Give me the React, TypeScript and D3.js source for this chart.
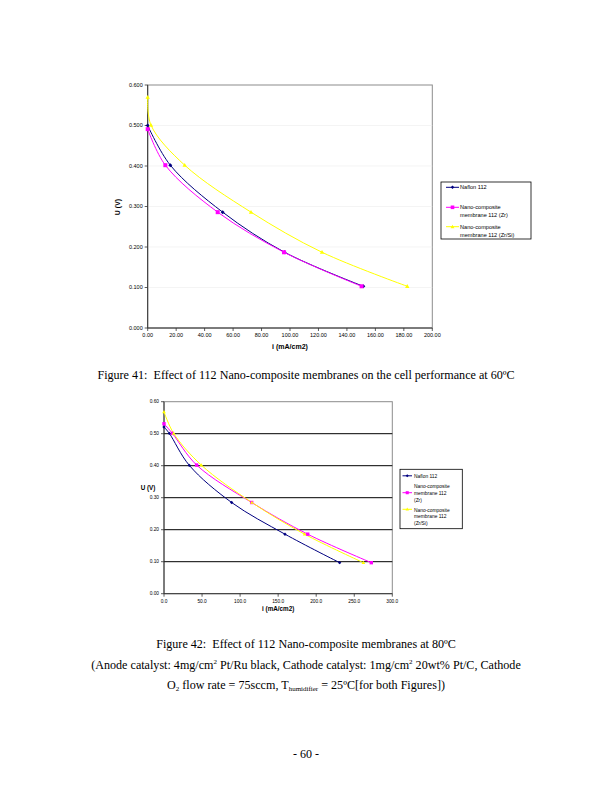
import React from "react";
import * as d3 from "d3";

type Pt = [number, number];

// ---- Figure 41 (60ºC) data ----
const f41Nafion: Pt[] = [[0, 0.5], [15.9, 0.402], [52.7, 0.286], [96.2, 0.187], [151.5, 0.103]];
const f41Zr: Pt[] = [[0, 0.491], [12.4, 0.402], [49.2, 0.286], [95.8, 0.187], [150.3, 0.103]];
const f41ZrSi: Pt[] = [[0, 0.57], [2.3, 0.501], [26, 0.402], [72.6, 0.286], [122.5, 0.187], [182.4, 0.103]];
const f41XTicks = [0, 20, 40, 60, 80, 100, 120, 140, 160, 180, 200];
const f41YTicks = [0, 0.1, 0.2, 0.3, 0.4, 0.5, 0.6];

// ---- Figure 42 (80ºC) data ----
const f42Nafion: Pt[] = [[0, 0.521], [7, 0.501], [33.3, 0.401], [88.9, 0.285], [159, 0.186], [230.8, 0.097]];
const f42Zr: Pt[] = [[0, 0.531], [11, 0.501], [42.9, 0.402], [115.2, 0.285], [188.8, 0.186], [272.4, 0.097]];
const f42ZrSi: Pt[] = [[0, 0.568], [12.7, 0.501], [49, 0.402], [115.5, 0.285], [184.8, 0.186], [262, 0.097]];
const f42XTicks = [0, 50, 100, 150, 200, 250, 300];
const f42YTicks = [0, 0.1, 0.2, 0.3, 0.4, 0.5, 0.6];

const legendNames1 = [["Naflon 112"], ["Nano-composite", "membrane 112 (Zr)"], ["Nano-composite", "membrane 112 (Zr/Si)"]];
const legendNames2 = [["Naflon 112"], ["Nano-composite", "membrane 112", "(Zr)"], ["Nano-composite", "membrane 112", "(Zr/Si)"]];

const COLORS = ["#000080", "#FF00FF", "#FFFF00"];
const SANS = "'Liberation Sans', Arial, sans-serif";
const SERIF = "'Liberation Serif', 'Times New Roman', serif";

function Marker({ kind, x, y, color, s }: { kind: number; x: number; y: number; color: string; s: number }) {
  if (kind === 0) {
    return <path d={`M${x},${y - s}L${x + s},${y}L${x},${y + s}L${x - s},${y}Z`} fill={color} />;
  }
  if (kind === 1) {
    return <rect x={x - s} y={y - s} width={2 * s} height={2 * s} fill={color} />;
  }
  return <path d={`M${x},${y - s * 1.1}L${x + s * 1.1},${y + s * 0.8}L${x - s * 1.1},${y + s * 0.8}Z`} fill={color} />;
}

interface LegendSpec {
  x: number; y: number; w: number; h: number;
  markerY: number[]; textY: number[]; lineH: number; font: number;
  lx0: number; lx1: number; tx: number; names: string[][];
}

interface ChartProps {
  series: Pt[][];
  xTicks: number[];
  yTicks: number[];
  xDomain: [number, number];
  x0: number; x1: number; y0: number; y1: number;
  xFmt: (v: number) => string;
  yFmt: (v: number) => string;
  tickFont: number;
  titleFont: number;
  xTitleY: number;
  yTitleX: number;
  yTitleY: number;
  yTitleRotate: boolean;
  darkGrid: boolean;
  markerSize: number;
  legend: LegendSpec;
}

function Chart(p: ChartProps) {
  const x = d3.scaleLinear().domain(p.xDomain).range([p.x0, p.x1]);
  const y = d3.scaleLinear().domain([0, 0.6]).range([p.y1, p.y0]);
  const line = d3.line<Pt>().x(d => x(d[0])).y(d => y(d[1])).curve(d3.curveCatmullRom.alpha(0.5));
  const L = p.legend;
  return (
    <g>
      <rect x={p.x0} y={p.y0} width={p.x1 - p.x0} height={p.y1 - p.y0} fill="#fff" stroke="#8c8c8c" strokeWidth={1} />
      {p.yTicks.filter(t => t > 0 && t < 0.6).map(t => (
        <line key={"g" + t} x1={p.x0} x2={p.x1} y1={y(t)} y2={y(t)}
          stroke={p.darkGrid ? "#000" : "#ececec"} strokeWidth={p.darkGrid ? 1 : 0.6} />
      ))}
      <line x1={p.x0} x2={p.x0} y1={p.y0} y2={p.y1} stroke="#333" strokeWidth={1} />
      <line x1={p.x0} x2={p.x1} y1={p.y1} y2={p.y1} stroke="#333" strokeWidth={1} />
      {p.yTicks.map(t => (
        <g key={"y" + t}>
          <line x1={p.x0 - 3} x2={p.x0} y1={y(t)} y2={y(t)} stroke="#333" strokeWidth={0.8} />
          <text x={p.x0 - 5} y={y(t)} dy="0.35em" textAnchor="end" fontSize={p.tickFont} fontFamily={SANS} fill="#000">{p.yFmt(t)}</text>
        </g>
      ))}
      {p.xTicks.map(t => (
        <g key={"x" + t}>
          <line x1={x(t)} x2={x(t)} y1={p.y1} y2={p.y1 + 3} stroke="#333" strokeWidth={0.8} />
          <text x={x(t)} y={p.y1 + 5} dy="0.8em" textAnchor="middle" fontSize={p.tickFont} fontFamily={SANS} fill="#000">{p.xFmt(t)}</text>
        </g>
      ))}
      <text x={(p.x0 + p.x1) / 2} y={p.xTitleY} dy="0.35em" textAnchor="middle" fontSize={p.titleFont} fontWeight="bold" fontFamily={SANS}>i (mA/cm2)</text>
      <text transform={`translate(${p.yTitleX},${p.yTitleY})${p.yTitleRotate ? " rotate(-90)" : ""}`} dy="0.35em" textAnchor="middle" fontSize={p.titleFont} fontWeight="bold" fontFamily={SANS}>U (V)</text>
      {p.series.map((s, i) => (
        <path key={"l" + i} d={line(s) || ""} fill="none" stroke={COLORS[i]} strokeWidth={1} />
      ))}
      {p.series.map((s, i) => s.map((d, j) => (
        <Marker key={`m${i}-${j}`} kind={i} x={x(d[0])} y={y(d[1])} color={COLORS[i]} s={p.markerSize} />
      )))}
      <rect x={L.x} y={L.y} width={L.w} height={L.h} fill="#fff" stroke="#000" strokeWidth={0.8} />
      {L.names.map((lines, i) => (
        <g key={"lg" + i}>
          <line x1={L.lx0} x2={L.lx1} y1={L.markerY[i]} y2={L.markerY[i]} stroke={COLORS[i]} strokeWidth={1} />
          <Marker kind={i} x={(L.lx0 + L.lx1) / 2} y={L.markerY[i]} color={COLORS[i]} s={p.markerSize * 0.9} />
          {lines.map((t, k) => (
            <text key={k} x={L.tx} y={L.textY[i] + k * L.lineH} dy="0.35em" fontSize={L.font} fontFamily={SANS} fill="#000">{t}</text>
          ))}
        </g>
      ))}
    </g>
  );
}

export default function App() {
  return (
    <svg width={612} height={792} style={{ position: "absolute", left: 0, top: 0, background: "#fff" }}>
      <rect width={612} height={792} fill="#fff" />
      <Chart
        series={[f41Nafion, f41Zr, f41ZrSi]}
        xTicks={f41XTicks} yTicks={f41YTicks} xDomain={[0, 200]}
        x0={147.7} x1={432.3} y0={85} y1={328}
        xFmt={v => v.toFixed(2)} yFmt={v => v.toFixed(3)}
        tickFont={5.5} titleFont={7} xTitleY={347} yTitleX={118} yTitleY={207} yTitleRotate={true}
        darkGrid={false} markerSize={2}
        legend={{ x: 441, y: 182, w: 90, h: 57, markerY: [187.3, 207.3, 226.7], textY: [187.3, 207.3, 226.7], lineH: 8, font: 5.6, lx0: 446, lx1: 459, tx: 460, names: legendNames1 }}
      />
      <text x={306} y={379} textAnchor="middle" fontSize={12.1} fontFamily={SERIF}>{"Figure 41:\u00A0 Effect of 112 Nano-composite membranes on the cell performance at 60ºC"}</text>
      <Chart
        series={[f42Nafion, f42Zr, f42ZrSi]}
        xTicks={f42XTicks} yTicks={f42YTicks} xDomain={[0, 300]}
        x0={164} x1={392.3} y0={401.7} y1={593.7}
        xFmt={v => v.toFixed(1)} yFmt={v => v.toFixed(2)}
        tickFont={4.8} titleFont={6.3} xTitleY={609} yTitleX={148} yTitleY={488} yTitleRotate={false}
        darkGrid={true} markerSize={1.7}
        legend={{ x: 400, y: 469.3, w: 62.3, h: 59.4, markerY: [475.8, 492.7, 509.3], textY: [475.8, 486.7, 510], lineH: 6.7, font: 4.9, lx0: 402.5, lx1: 412, tx: 414, names: legendNames2 }}
      />
      <text x={306} y={648} textAnchor="middle" fontSize={12.1} fontFamily={SERIF}>{"Figure 42:\u00A0 Effect of 112 Nano-composite membranes at 80ºC"}</text>
      <text x={306} y={669} textAnchor="middle" fontSize={12.1} fontFamily={SERIF}>
        (Anode catalyst: 4mg/cm<tspan fontSize={7} dy={-5}>2</tspan><tspan dy={5}> Pt/Ru black, Cathode catalyst: 1mg/cm</tspan><tspan fontSize={7} dy={-5}>2</tspan><tspan dy={5}> 20wt% Pt/C, Cathode</tspan>
      </text>
      <text x={306} y={689} textAnchor="middle" fontSize={12.1} fontFamily={SERIF}>
        O<tspan fontSize={7} dy={2}>2</tspan><tspan dy={-2}> flow rate = 75sccm, T</tspan><tspan fontSize={7} dy={2}>humidifier</tspan><tspan dy={-2}> = 25ºC[for both Figures])</tspan>
      </text>
      <text x={306} y={758} textAnchor="middle" fontSize={12} fontFamily={SERIF}>- 60 -</text>
    </svg>
  );
}
